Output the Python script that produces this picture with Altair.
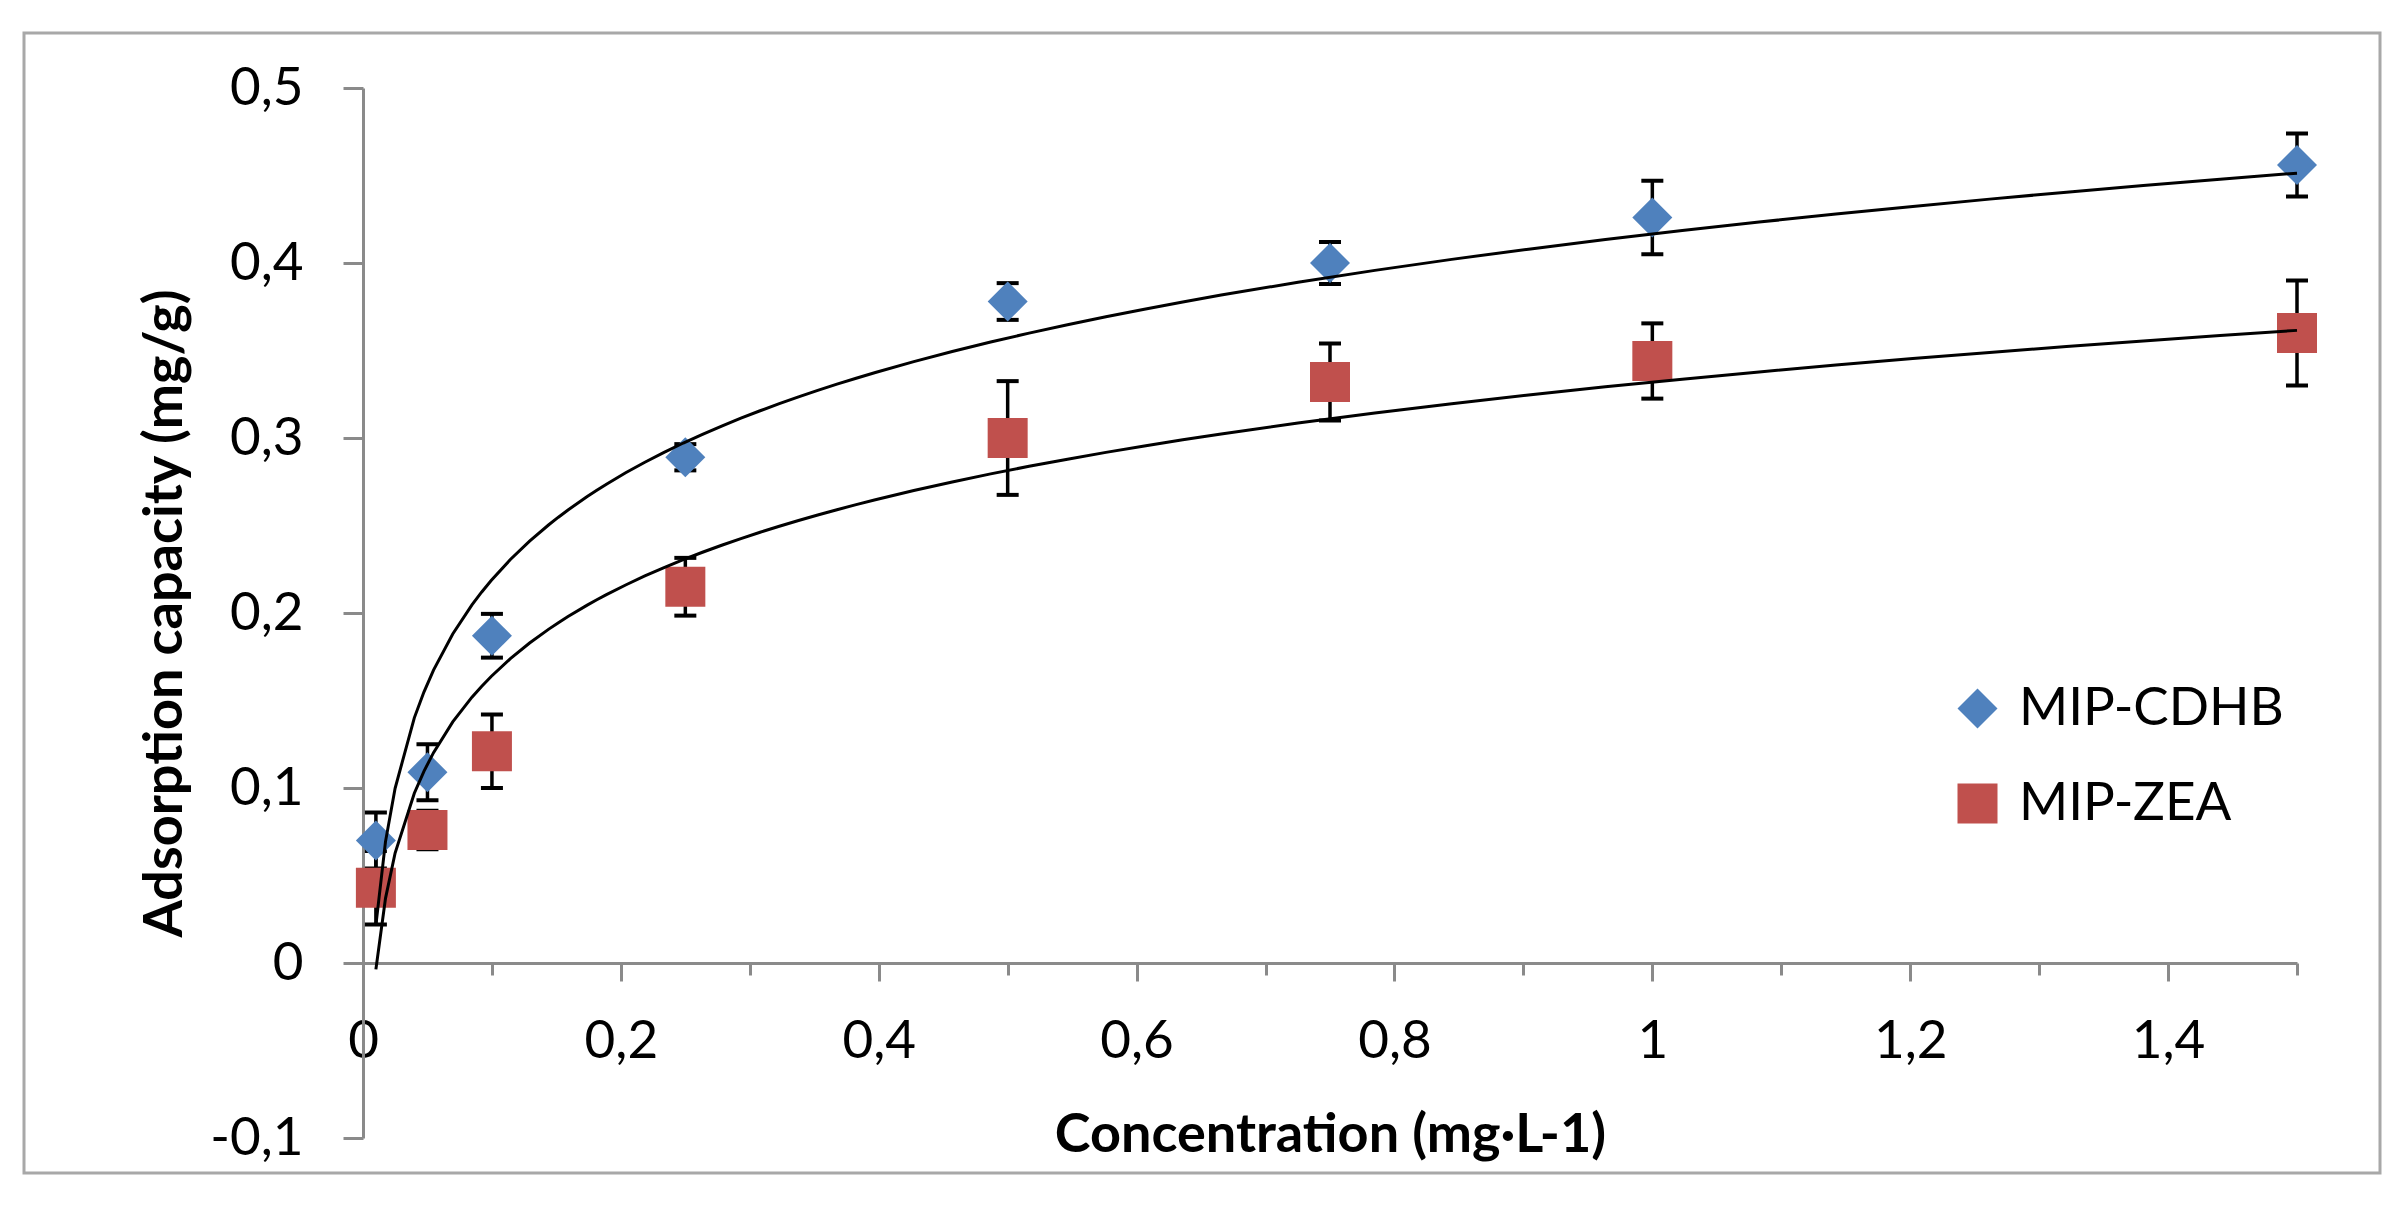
import altair as alt
import pandas as pd

# ---------------- data ----------------
conc = [0.01, 0.05, 0.1, 0.25, 0.5, 0.75, 1.0, 1.5]
cdhb = [0.070, 0.109, 0.187, 0.289, 0.378, 0.400, 0.426, 0.456]
cdhb_err = [0.016, 0.016, 0.0125, 0.0075, 0.0105, 0.012, 0.021, 0.018]
zea = [0.043, 0.076, 0.121, 0.215, 0.300, 0.332, 0.344, 0.360]
zea_err = [0.021, 0.011, 0.021, 0.0165, 0.0325, 0.022, 0.0215, 0.030]
series_names = ["MIP-CDHB", "MIP-ZEA"]
series_colors = ["#4F81BD", "#C0504D"]
series_shapes = ["diamond", "square"]
x_ticks = [0, 0.1, 0.2, 0.3, 0.4, 0.5, 0.6, 0.7, 0.8, 0.9, 1.0, 1.1, 1.2, 1.3, 1.4, 1.5]
y_ticks = [-0.1, 0, 0.1, 0.2, 0.3, 0.4, 0.5]

rows = []
for name, vals, errs in ((series_names[0], cdhb, cdhb_err), (series_names[1], zea, zea_err)):
    for c, v, e in zip(conc, vals, errs):
        rows.append({"series": name, "conc": c, "value": v, "err": e})
df = pd.DataFrame(rows)

# ---------------- layout ----------------
W, H = 1934, 1050
FONT = "Lato"
AXIS_GRAY = "#8a8a8a"

x_axis = alt.Axis(
    values=x_ticks,
    title="Concentration (mg·L-1)",
    offset=-H / 6,
    grid=False,
    domainColor=AXIS_GRAY, domainWidth=3,
    tickColor=AXIS_GRAY, tickWidth=3,
    tickSize={"condition": {"test": "round(datum.value*10) % 2 == 0", "value": 18}, "value": 12},
    labelExpr="round(datum.value*10) % 2 == 0 ? replace(format(datum.value, '~g'), '.', ',') : ''",
    labelFont=FONT, labelFontSize=53, labelColor="#000000",
    labelPadding=34, labelFlush=False, labelOverlap=False,
    titleFont=FONT, titleFontSize=54, titleFontWeight="bold", titleColor="#000000",
    titleX=W / 2, titleY=188, titleBaseline="alphabetic",
)
y_axis = alt.Axis(
    values=y_ticks,
    title="Adsorption capacity (mg/g)",
    grid=False,
    domainColor=AXIS_GRAY, domainWidth=3,
    tickColor=AXIS_GRAY, tickWidth=3, tickSize=20,
    labelExpr="replace(replace(format(datum.value, '~g'), '.', ','), '\u2212', '-')",
    labelFont=FONT, labelFontSize=53, labelColor="#000000", labelPadding=40,
    titleFont=FONT, titleFontSize=54, titleFontWeight="bold", titleColor="#000000",
    titleAngle=-90, titleX=-182, titleY=H / 2, titleBaseline="alphabetic",
)

x_scale = alt.Scale(domain=[0, 1.5], nice=False, zero=False)
y_scale = alt.Scale(domain=[-0.1, 0.5], nice=False, zero=False)

X = alt.X("conc:Q", scale=x_scale, axis=x_axis)

base = alt.Chart(df).transform_calculate(
    lo="datum.value - datum.err", hi="datum.value + datum.err"
)

stems = base.mark_rule(color="black", strokeWidth=3.5).encode(
    x=X,
    y=alt.Y("lo:Q", scale=y_scale, axis=y_axis),
    y2="hi:Q",
)

caps = base.transform_fold(["lo", "hi"], as_=["end", "yv"]).mark_tick(
    orient="horizontal", color="black", size=22, thickness=4, opacity=1
).encode(
    x=X,
    y=alt.Y("yv:Q", scale=y_scale, axis=y_axis),
)

legend = alt.Legend(
    title=None, orient="none", legendX=1588, legendY=594, padding=0,
    symbolSize=1600, symbolStrokeWidth=0, symbolOpacity=1,
    labelFont=FONT, labelFontSize=53, labelColor="#000000", labelLimit=0,
    labelOffset=15, rowPadding=41,
)

points = base.mark_point(filled=True, size=1600, opacity=1, strokeWidth=0).encode(
    x=X,
    y=alt.Y("value:Q", scale=y_scale, axis=y_axis),
    color=alt.Color("series:N", scale=alt.Scale(domain=series_names, range=series_colors), legend=legend),
    shape=alt.Shape("series:N", scale=alt.Scale(domain=series_names, range=series_shapes), legend=legend),
)

trend = alt.Chart(df).transform_regression(
    "conc", "value", method="log", groupby=["series"], extent=[0.01, 1.5]
).mark_line(color="black", strokeWidth=3).encode(
    x=X,
    y=alt.Y("value:Q", scale=y_scale, axis=y_axis),
    detail="series:N",
)

frame = alt.Chart(pd.DataFrame({"k": [0]})).mark_rect(
    fillOpacity=0, stroke="#a8a8a8", strokeWidth=3
).encode(
    x=alt.value(24 - 363), x2=alt.value(2380 - 363),
    y=alt.value(33 - 88), y2=alt.value(1173 - 88),
)

chart = alt.layer(stems, caps, points, trend, frame).properties(
    width=W, height=H,
    autosize=alt.AutoSizeParams(type="none"),
    padding={"left": 355, "top": 80, "right": 90, "bottom": 60},
    background="white",
).configure_view(stroke="transparent")

chart.save("out.html", embed_options={"renderer": "svg", "actions": False})
